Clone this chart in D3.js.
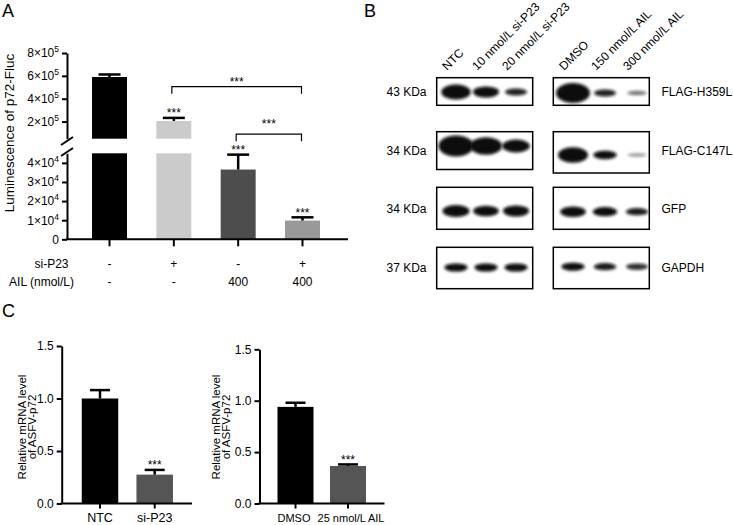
<!DOCTYPE html>
<html><head><meta charset="utf-8">
<script src="https://cdn.jsdelivr.net/npm/d3@7"></script>
<style>body{margin:0;background:#fff}svg{font-family:Arial,"Liberation Sans",sans-serif}</style>
</head><body><svg id="fig" width="733" height="525"></svg>
<script>
// ---------- Panel A data ----------
const groupsA = [0, 1, 2, 3];
const siP23Row = ["-", "+", "-", "+"];
const ailRow = ["-", "-", "400", "400"];
const lumMean = [590000, 205000, 36500, 9800];
const lumErr = [22000, 27000, 7800, 1700];
const colorsA = ["#000000", "#cbcbcb", "#4d4d4d", "#999999"];
const sigA = ["", "***", "***", "***"];
const upperTicks = [200000, 400000, 600000, 800000];
const lowerTicks = [0, 10000, 20000, 30000, 40000];
const bracketPairs = [[1, 3], [2, 3]];
const bracketLevels = [505000, 90000];
const bracketLabels = ["***", "***"];

// ---------- Panel B data ----------
const lanesLeft = ["NTC", "10 nmol/L si-P23", "20 nmol/L si-P23"];
const lanesRight = ["DMSO", "150 nmol/L AIL", "300 nmol/L AIL"];
const blotTargets = ["FLAG-H359L", "FLAG-C147L", "GFP", "GAPDH"];
const blotKDa = ["43 KDa", "34 KDa", "34 KDa", "37 KDa"];
const bandH359L = [0.68, 0.5, 0.32, 0.9, 0.32, 0.2];
const bandC147L = [0.95, 0.8, 0.58, 0.7, 0.38, 0.15];
const bandGFP = [0.55, 0.48, 0.5, 0.48, 0.42, 0.33];
const bandGAPDH = [0.37, 0.37, 0.37, 0.37, 0.33, 0.3];

// ---------- Panel C data ----------
const c1Cats = ["NTC", "si-P23"];
const c1Mean = [1.0, 0.275];
const c1Err = [0.08, 0.045];
const c1Sig = ["", "***"];
const c1Colors = ["#000000", "#555555"];
const c2Cats = ["DMSO", "25 nmol/L AIL"];
const c2Mean = [0.94, 0.365];
const c2Err = [0.04, 0.015];
const c2Sig = ["", "***"];
const c2Colors = ["#000000", "#555555"];
const cTicks = [0, 0.5, 1.0, 1.5];

const svg = d3.select("#fig");
const FONT = "Arial, 'Liberation Sans', sans-serif";

function panelLabel(t, x, y) {
  svg.append("text").attr("x", x).attr("y", y).attr("font-size", 18).text(t);
}
panelLabel("A", 2, 17);
panelLabel("B", 364, 17);
panelLabel("C", 2, 317);

// ================= Panel A =================
const gA = svg.append("g");
const xA = d3.scalePoint().domain(groupsA).range([109.5, 302.5]);
const barWA = 35;
const yUp = d3.scaleLinear().domain([50000, 800000]).range([138.7, 53]);
const yLo = d3.scaleLinear().domain([0, 45000]).range([239.3, 153.3]);
const loMax = yLo.domain()[1];
const yAny = v => (v > loMax ? yUp(v) : yLo(v));

groupsA.forEach(i => {
  const v = lumMean[i];
  const x0 = xA(i) - barWA / 2;
  if (v > loMax) {
    gA.append("rect").attr("x", x0).attr("width", barWA)
      .attr("y", yLo(loMax)).attr("height", yLo(0) - yLo(loMax)).attr("fill", colorsA[i]);
    gA.append("rect").attr("x", x0).attr("width", barWA)
      .attr("y", yUp(v)).attr("height", yUp(yUp.domain()[0]) - yUp(v)).attr("fill", colorsA[i]);
  } else {
    gA.append("rect").attr("x", x0).attr("width", barWA)
      .attr("y", yLo(v)).attr("height", yLo(0) - yLo(v)).attr("fill", colorsA[i]);
  }
  const top = yAny(v + lumErr[i]);
  gA.append("line").attr("x1", xA(i)).attr("x2", xA(i)).attr("y1", yAny(v)).attr("y2", top)
    .attr("stroke", "#000").attr("stroke-width", 2.5);
  gA.append("line").attr("x1", xA(i) - 11).attr("x2", xA(i) + 11).attr("y1", top).attr("y2", top)
    .attr("stroke", "#000").attr("stroke-width", 2.5);
  if (sigA[i]) {
    gA.append("text").attr("x", xA(i)).attr("y", top - 0.5).attr("text-anchor", "middle")
      .attr("font-size", 12).text(sigA[i]);
  }
});

function sciLabel(sel) {
  sel.each(function (d) {
    const t = d3.select(this);
    t.text("");
    if (d === 0) { t.text("0"); return; }
    const e = Math.floor(Math.log10(d));
    const m = Math.round(d / Math.pow(10, e));
    t.append("tspan").text(m + "\u00d710");
    t.append("tspan").attr("font-size", 8.5).attr("dy", -5).text(e);
  });
}

const axUp = gA.append("g").attr("transform", "translate(67,0)")
  .call(d3.axisLeft(yUp).tickValues(upperTicks).tickSize(5).tickSizeOuter(0).tickPadding(3));
const axLo = gA.append("g").attr("transform", "translate(67,0)")
  .call(d3.axisLeft(yLo).tickValues(lowerTicks).tickSize(5).tickSizeOuter(0).tickPadding(3));
[axUp, axLo].forEach(ax => {
  ax.selectAll("path,line").attr("stroke", "#000").attr("stroke-width", 2);
  ax.selectAll("text").attr("font-size", 12).attr("font-family", FONT).attr("fill", "#000").call(sciLabel);
});
[[67, 141], [67, 152]].forEach(([cx, cy]) => {
  gA.append("line").attr("x1", cx - 6).attr("y1", cy + 4).attr("x2", cx + 6).attr("y2", cy - 4)
    .attr("stroke", "#000").attr("stroke-width", 2);
});
gA.append("line").attr("x1", 66).attr("x2", 348).attr("y1", yLo(0)).attr("y2", yLo(0))
  .attr("stroke", "#000").attr("stroke-width", 2);
groupsA.forEach(i => {
  gA.append("line").attr("x1", xA(i)).attr("x2", xA(i)).attr("y1", yLo(0)).attr("y2", yLo(0) + 7)
    .attr("stroke", "#000").attr("stroke-width", 2);
});
gA.append("text").attr("x", 68.5).attr("y", 268).attr("text-anchor", "end").attr("font-size", 12).text("si-P23");
gA.append("text").attr("x", 74).attr("y", 285.5).attr("text-anchor", "end").attr("font-size", 12).text("AIL (nmol/L)");
groupsA.forEach(i => {
  gA.append("text").attr("x", xA(i)).attr("y", 268).attr("text-anchor", "middle").attr("font-size", 12).text(siP23Row[i]);
  gA.append("text").attr("x", xA(i)).attr("y", 285.5).attr("text-anchor", "middle").attr("font-size", 12).text(ailRow[i]);
});
gA.append("text").attr("transform", "translate(14,133) rotate(-90)").attr("text-anchor", "middle")
  .attr("font-size", 13.5).text("Luminescence of p72-Fluc");
bracketPairs.forEach(([a, b], k) => {
  const y = yUp(bracketLevels[k]);
  const x1 = xA(a) - 2, x2 = xA(b) - 1;
  gA.append("path").attr("d", `M${x1},${y + 7}V${y}H${x2}V${y + 7}`)
    .attr("fill", "none").attr("stroke", "#000").attr("stroke-width", 1.2);
  gA.append("text").attr("x", (x1 + x2) / 2).attr("y", k === 0 ? y - 0.5 : y - 6)
    .attr("text-anchor", "middle").attr("font-size", 12).text(bracketLabels[k]);
});

// ================= Panel B =================
const gB = svg.append("g");
const defs = svg.append("defs");
defs.append("filter").attr("id", "blur").attr("x", "-30%").attr("y", "-80%").attr("width", "160%").attr("height", "260%")
  .append("feGaussianBlur").attr("stdDeviation", 1.6);

const xLeft = d3.scalePoint().domain(lanesLeft).range([456, 516]);
const xRight = d3.scalePoint().domain(lanesRight).range([573, 637]);
const boxL = [436.7, 532.7], boxR = [553.3, 649.3];
const rowBoxes = [[77.7, 105.3, 77.7, 105.3], [131.7, 169.5, 131.7, 173], [187.3, 229.3, 187.3, 229.3], [247.3, 288.7, 247.3, 288.7]];
const bandCY = [[92, 93], [146, 155], [211, 211.7], [267.5, 266.7]];
const bandRows = [bandH359L, bandC147L, bandGFP, bandGAPDH];
const hScale = d3.scaleLinear().domain([0, 1]).range([0, 22]);
const wScale = d3.scaleLinear().domain([0, 1]).range([16, 36]);
const opScale = d3.scaleLinear().domain([0.1, 0.35]).range([0.3, 1]).clamp(true);

bandRows.forEach((vals, r) => {
  [[boxL, xLeft, lanesLeft, 0], [boxR, xRight, lanesRight, 3]].forEach(([bx, xs, lanes, off], side) => {
    const yt = rowBoxes[r][side * 2], yb = rowBoxes[r][side * 2 + 1];
    const cid = `clip${r}_${side}`;
    defs.append("clipPath").attr("id", cid).append("rect")
      .attr("x", bx[0]).attr("y", yt).attr("width", bx[1] - bx[0]).attr("height", yb - yt);
    const g = gB.append("g").attr("clip-path", `url(#${cid})`);
    lanes.forEach((ln, j) => {
      const v = vals[off + j];
      g.append("ellipse").attr("cx", xs(ln)).attr("cy", bandCY[r][side])
        .attr("rx", wScale(v) / 2).attr("ry", hScale(v) / 2)
        .attr("fill", "#0a0a0a").attr("opacity", opScale(v)).attr("filter", "url(#blur)");
    });
    gB.append("rect").attr("x", bx[0]).attr("y", yt).attr("width", bx[1] - bx[0]).attr("height", yb - yt)
      .attr("fill", "none").attr("stroke", "#000").attr("stroke-width", 1.5);
  });
  const cy = (rowBoxes[r][0] + rowBoxes[r][1]) / 2;
  gB.append("text").attr("x", 386.5).attr("y", cy + 4.3).attr("font-size", 12).text(blotKDa[r]);
  gB.append("text").attr("x", 661.5).attr("y", cy + 4.3).attr("font-size", 12).text(blotTargets[r]);
});
[[xLeft, lanesLeft], [xRight, lanesRight]].forEach(([xs, lanes]) => {
  lanes.forEach(ln => {
    gB.append("text").attr("transform", `translate(${xs(ln) - 9},71) rotate(-45)`)
      .attr("font-size", 12).text(ln);
  });
});

// ================= Panel C =================
function barPanel(cfg) {
  const g = svg.append("g");
  const y = d3.scaleLinear().domain([0, 1.5]).range([503.5, cfg.yTop]);
  const x = d3.scalePoint().domain(cfg.cats).range(cfg.xr);
  cfg.cats.forEach((c, i) => {
    g.append("rect").attr("x", x(c) - cfg.bw / 2).attr("width", cfg.bw)
      .attr("y", y(cfg.mean[i])).attr("height", y(0) - y(cfg.mean[i])).attr("fill", cfg.colors[i]);
    const top = y(cfg.mean[i] + cfg.err[i]);
    g.append("line").attr("x1", x(c)).attr("x2", x(c)).attr("y1", y(cfg.mean[i])).attr("y2", top)
      .attr("stroke", "#000").attr("stroke-width", 2.5);
    g.append("line").attr("x1", x(c) - 10).attr("x2", x(c) + 10).attr("y1", top).attr("y2", top)
      .attr("stroke", "#000").attr("stroke-width", 2.5);
    if (cfg.sig[i]) g.append("text").attr("x", x(c)).attr("y", top - 0.5).attr("text-anchor", "middle")
      .attr("font-size", 12).text(cfg.sig[i]);
    g.append("line").attr("x1", x(c)).attr("x2", x(c)).attr("y1", y(0)).attr("y2", y(0) + 5)
      .attr("stroke", "#000").attr("stroke-width", 2);
    g.append("text").attr("x", x(c) + cfg.labOff[i]).attr("y", 522).attr("text-anchor", "middle")
      .attr("font-size", cfg.xfs).text(c);
  });
  const ax = g.append("g").attr("transform", `translate(${cfg.ax},0)`)
    .call(d3.axisLeft(y).tickValues(cTicks).tickSize(5).tickSizeOuter(0).tickPadding(3).tickFormat(d3.format(".1f")));
  ax.selectAll("path,line").attr("stroke", "#000").attr("stroke-width", 2);
  ax.selectAll("text").attr("font-size", 12).attr("font-family", FONT).attr("fill", "#000");
  g.append("line").attr("x1", cfg.ax - 1).attr("x2", cfg.xEnd).attr("y1", y(0)).attr("y2", y(0))
    .attr("stroke", "#000").attr("stroke-width", 2);
  const t = g.append("text").attr("transform", `translate(${cfg.tx},${cfg.ty}) rotate(-90)`)
    .attr("text-anchor", "middle").attr("font-size", 11.5);
  t.append("tspan").attr("x", 0).attr("dy", 0).text("Relative mRNA level");
  t.append("tspan").attr("x", 0).attr("dy", 10).text("of ASFV-p72");
}
barPanel({cats: c1Cats, mean: c1Mean, err: c1Err, sig: c1Sig, colors: c1Colors, yTop: 346,
  xr: [100, 154.7], bw: 36.5, ax: 61.7, xEnd: 192, tx: 26, ty: 427, xfs: 12.5, labOff: [0, 0]});
barPanel({cats: c2Cats, mean: c2Mean, err: c2Err, sig: c2Sig, colors: c2Colors, yTop: 349.3,
  xr: [295.5, 348], bw: 36, ax: 259.5, xEnd: 384.5, tx: 220, ty: 427, xfs: 11, labOff: [-1.5, 3]});
</script></body></html>
